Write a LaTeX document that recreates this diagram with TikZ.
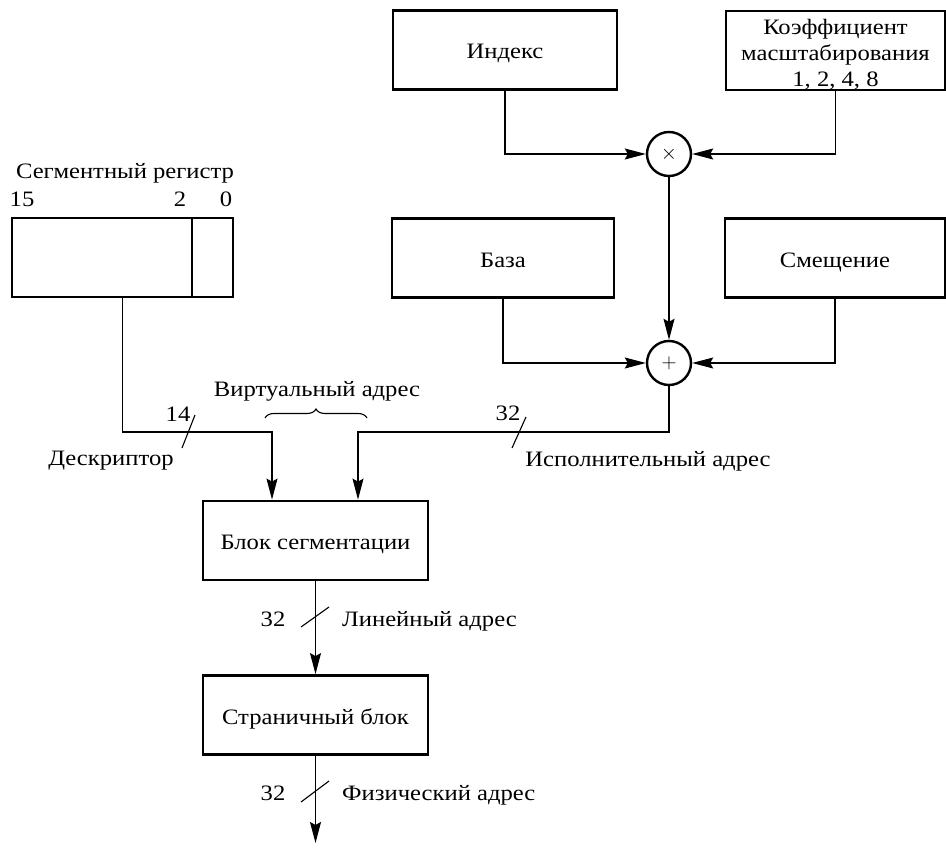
\documentclass[tikz,border=0pt]{standalone}
\usepackage{fontspec}
\setmainfont{Liberation Serif}[FakeStretch=1.12]
\usetikzlibrary{arrows.meta,decorations.pathreplacing,calc}

\begin{document}
\begin{tikzpicture}[x=1pt,y=-1pt,
  font=\fontsize{22}{25.5}\selectfont,
  box/.style={draw,line width=2.8pt,minimum width=#1,minimum height=79pt,inner sep=0pt,
    text height=18pt,text depth=0pt},
  op/.style={draw,circle,line width=2.4pt,minimum size=44pt,inner sep=0pt},
  wire/.style={line width=1.1pt},
  arr/.style={wire,-{Stealth[length=21pt,width=11pt,inset=3pt]}},
  tick/.style={line width=1.1pt},
  lbl/.style={inner sep=0pt,text height=17pt,text depth=0pt}
]
\useasboundingbox (0,0) rectangle (946,848);

% address operand registers
\node[box=224] (idx) at (505,50) {Индекс};
\node[box=219] (coef) at (835.5,50.5) {};
\node[inner sep=0pt,align=center,font=\fontsize{22}{26}\selectfont] (coeftxt) at (835.5,55)
  {Коэффициент\\масштабирования\\1, 2, 4, 8};
\node[box=222] (baza) at (503,258) {База};
\node[box=220] (smesh) at (835,258) {Смещение};

% arithmetic
\node[op] (mult) at (669,154) {$\times$};
\node[op] (plus) at (669,363) {$+$};

% segment register
\node[box=221] (seg) at (122.5,257.5) {};
\draw[wire] (192,218) -- (192,297);
\node[lbl] (segname) at (125,170) {Сегментный регистр};
\node[lbl] (b15) at (22,198) {15};
\node[lbl] (b2) at (180,198) {2};
\node[lbl] (b0) at (226,198) {0};

% translation units
\node[box=225] (segblk) at (315.5,540.5) {Блок сегментации};
\node[box=225] (pagblk) at (315.5,715) {Страничный блок};

\coordinate (va) at (272,432);
\coordinate (vb) at (358,432);
\coordinate (out) at (315.5,843);

% connectors
\draw[arr] (idx.south) |- (mult.west);
\draw[arr] (coef.south) |- (mult.east);
\draw[arr] (mult) -- (plus);
\draw[arr] (baza.south) |- (plus.west);
\draw[arr] (smesh.south) |- (plus.east);
\draw[arr] (seg.south) |- (va) -- (va |- segblk.north);
\draw[arr] (plus.south) |- (vb) -- (vb |- segblk.north);
\draw[arr] (segblk) -- (pagblk);
\draw[arr] (pagblk.south) -- (out);

% bus width marks
\draw[tick] (182,448) -- (195,415);
\draw[tick] (512,448) -- (526,417);
\draw[tick] (301,627) -- (329,607);
\draw[tick] (301,802) -- (329,781);

% labels
\node[lbl] (w14) at (178,413) {14};
\node[lbl] (desc) at (111,457) {Дескриптор};
\node[lbl] (virt) at (317,388) {Виртуальный адрес};
\draw[wire,decorate,decoration={brace,amplitude=9pt}] (265,418) -- (367,418);
\node[lbl] (w32a) at (508,412) {32};
\node[lbl] (eff) at (648,458) {Исполнительный адрес};
\node[lbl] (w32b) at (273,618) {32};
\node[lbl,anchor=west] (lin) at (342,618) {Линейный адрес};
\node[lbl] (w32c) at (273,792) {32};
\node[lbl,anchor=west] (phys) at (342,792) {Физический адрес};
\end{tikzpicture}
\end{document}
